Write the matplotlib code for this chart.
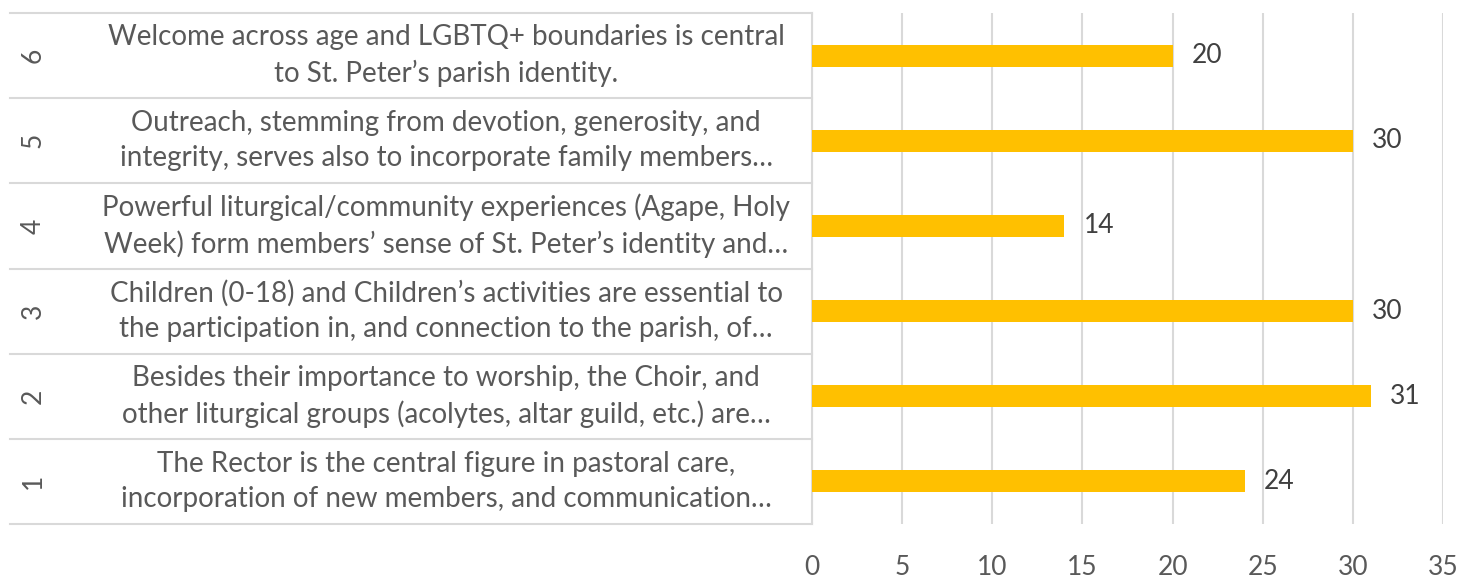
import matplotlib.pyplot as plt
import matplotlib.transforms as mtransforms

# categories bottom to top
row_ids = ["1", "2", "3", "4", "5", "6"]
row_labels = [
    "The Rector is the central figure in pastoral care,\nincorporation of new members, and communication\u2026",
    "Besides their importance to worship, the Choir, and\nother liturgical groups (acolytes, altar guild, etc.) are\u2026",
    "Children (0-18) and Children\u2019s activities are essential to\nthe participation in, and connection to the parish, of\u2026",
    "Powerful liturgical/community experiences (Agape, Holy\nWeek) form members\u2019 sense of St. Peter\u2019s identity and\u2026",
    "Outreach, stemming from devotion, generosity, and\nintegrity, serves also to incorporate family members\u2026",
    "Welcome across age and LGBTQ+ boundaries is central\nto St. Peter\u2019s parish identity.",
]
counts = [24, 31, 30, 14, 30, 20]
x_ticks = [0, 5, 10, 15, 20, 25, 30, 35]

plt.rcParams['font.family'] = ['Lato', 'DejaVu Sans']

W, H = 1472, 579
fig = plt.figure(figsize=(W / 100, H / 100), dpi=100)
fig.patch.set_facecolor("white")
ax = fig.add_axes([812 / W, 1 - 524 / H, (1443 - 812) / W, (524 - 13) / H])

y = list(range(len(counts)))
ax.barh(y, counts, height=0.26, color="#FFC000", edgecolor="none", zorder=3)
ax.set_xlim(0, 35)
ax.set_ylim(-0.5, len(counts) - 0.5)
ax.set_xticks(x_ticks)
ax.set_xticklabels([str(t) for t in x_ticks], fontsize=19, color="#595959")
ax.set_yticks([])
ax.tick_params(axis="x", length=0, pad=22)
ax.grid(axis="x", color="#D9D9D9", linewidth=1.5, zorder=0)
for s in ["top", "right", "bottom"]:
    ax.spines[s].set_visible(False)
ax.spines["left"].set_color("#D9D9D9")
ax.spines["left"].set_linewidth(1.5)

for i, v in enumerate(counts):
    ax.annotate(str(v), (v, i), xytext=(14, 0), textcoords="offset points",
                va="center", ha="left", fontsize=19, color="#404040")

# category table on the left
trans = mtransforms.blended_transform_factory(fig.transFigure, ax.transData)
for k in range(len(counts) + 1):
    ax.plot([10 / W, 812 / W], [k - 0.5, k - 0.5], transform=trans,
            color="#D9D9D9", linewidth=1.5, clip_on=False)
for i in y:
    ax.text(33 / W, i, row_ids[i], transform=trans, rotation=90,
            ha="center", va="center", fontsize=19, color="#595959")
    ax.text(446 / W, i, row_labels[i], transform=trans, ha="center",
            va="center", multialignment="center", fontsize=20,
            color="#595959", linespacing=1.42)

fig.savefig("out.png", dpi=100, facecolor=fig.get_facecolor())
